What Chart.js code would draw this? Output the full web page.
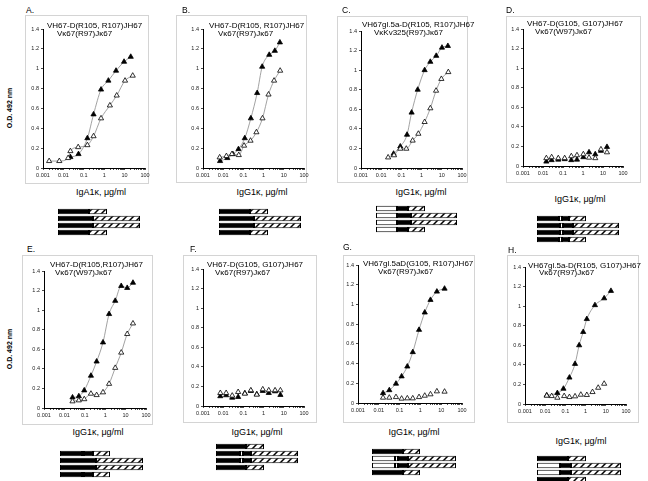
<!DOCTYPE html>
<html><head><meta charset="utf-8">
<script src="https://cdn.jsdelivr.net/npm/chart.js@4.4.1/dist/chart.umd.min.js"></script>
<style>
body{margin:0;background:#fff;width:648px;height:481px;position:relative;overflow:hidden;font-family:"Liberation Sans",Arial,sans-serif;color:#000;}
.box{position:absolute;border:1px solid #d4d4d4;box-sizing:border-box;}
.t{position:absolute;font-size:8px;white-space:nowrap;line-height:1;}
.lt{position:absolute;font-size:8.5px;line-height:1;}
.xt{position:absolute;font-size:9px;white-space:nowrap;line-height:1;transform:translateX(-50%);}
.yt{position:absolute;font-size:7px;font-weight:bold;white-space:nowrap;line-height:1;transform:translate(-50%,-50%) rotate(-90deg);}
canvas{position:absolute;}
</style></head><body>
<script>
// ---------- data ----------
const xTickLabels = ['0.001','0.01','0.1','1','10','100'];
const yTickLabels = ['0','0.2','0.4','0.6','0.8','1','1.2','1.4'];
const panelLetters = ['A.','B.','C.','D.','E.','F.','G.','H.'];
const heavyChains = ['VH67-D(R105, R107)JH67','VH67-D(R105, R107)JH67','VH67gl.5a-D(R105, R107)JH67','VH67-D(G105, G107)JH67',
                     'VH67-D(R105,R107)JH67','VH67-D(G105, G107)JH67','VH67gl.5aD(G105, R107)JH67','VH67gl.5a-D(R105, G107)JH67'];
const lightChains = ['Vκ67(R97)Jκ67','Vκ67(R97)Jκ67','VκKv325(R97)Jκ67','Vκ67(W97)Jκ67',
                     'Vκ67(W97)Jκ67','Vκ67(R97)Jκ67','Vκ67(R97)Jκ67','Vκ67(R97)Jκ67'];
const xAxisTitles = ['IgA1κ, μg/ml','IgG1κ, μg/ml','IgG1κ, μg/ml','IgG1κ, μg/ml','IgG1κ, μg/ml','IgG1κ, μg/ml','IgG1κ, μg/ml','IgG1κ, μg/ml'];
const yAxisTitle = 'O.D. 492 nm';

// Panel A
const aFilledX = [0.022, 0.055, 0.15, 0.3, 0.7, 1.6, 3.8, 9.4, 20];
const aFilledY = [0.11, 0.14, 0.30, 0.54, 0.79, 0.88, 0.98, 1.07, 1.12];
const aOpenX = [0.002, 0.0063, 0.017, 0.022, 0.053, 0.15, 0.3, 0.7, 1.9, 4.1, 10.5, 25];
const aOpenY = [0.07, 0.07, 0.10, 0.17, 0.21, 0.23, 0.32, 0.50, 0.63, 0.73, 0.88, 0.93];
// Panel B
const bFilledX = [0.007, 0.016, 0.03, 0.057, 0.117, 0.234, 0.48, 0.85, 1.9, 3.6, 6.4];
const bFilledY = [0.07, 0.10, 0.14, 0.19, 0.30, 0.50, 0.755, 1.02, 1.14, 1.18, 1.265];
const bOpenX = [0.0067, 0.0144, 0.027, 0.059, 0.108, 0.225, 0.44, 0.88, 1.75, 3.3, 6.6];
const bOpenY = [0.107, 0.12, 0.14, 0.13, 0.225, 0.275, 0.36, 0.50, 0.74, 0.88, 0.98];
// Panel C
const cFilledX = [0.041, 0.088, 0.19, 0.32, 0.64, 1.41, 2.7, 5.3, 10.2, 20];
const cFilledY = [0.146, 0.22, 0.34, 0.566, 0.80, 1.0, 1.085, 1.146, 1.23, 1.247];
const cOpenX = [0.022, 0.043, 0.088, 0.175, 0.36, 0.69, 1.41, 2.7, 5.2, 9.5, 21];
const cOpenY = [0.108, 0.13, 0.197, 0.197, 0.28, 0.35, 0.47, 0.61, 0.79, 0.91, 0.98];
// Panel D
const dX = [0.0147, 0.027, 0.058, 0.121, 0.26, 0.5, 1.04, 2.0, 4.1, 7.9, 15.8];
const dFilledY = [0.045, 0.06, 0.065, 0.07, 0.06, 0.065, 0.09, 0.14, 0.12, 0.155, 0.195];
const dOpenY = [0.08, 0.09, 0.08, 0.08, 0.10, 0.11, 0.12, 0.085, 0.08, 0.17, 0.14];
// Panel E
const eX = [0.025, 0.051, 0.094, 0.2, 0.38, 0.78, 1.55, 3.1, 6.1, 12, 23];
const eFilledY = [0.108, 0.12, 0.18, 0.33, 0.475, 0.67, 0.96, 1.095, 1.247, 1.227, 1.28];
const eOpenY = [0.068, 0.078, 0.09, 0.146, 0.132, 0.16, 0.247, 0.41, 0.566, 0.756, 0.864];
// Panel F
const fX = [0.0072, 0.014, 0.028, 0.055, 0.118, 0.234, 0.46, 0.91, 1.8, 3.7, 6.8];
const fFilledY = [0.10, 0.11, 0.085, 0.092, 0.13, 0.154, 0.12, 0.154, 0.133, 0.15, 0.113];
const fOpenY = [0.133, 0.133, 0.106, 0.143, 0.126, 0.16, 0.116, 0.17, 0.16, 0.16, 0.16];
// Panel G
const gX = [0.016, 0.032, 0.067, 0.125, 0.235, 0.43, 0.86, 1.62, 3.05, 6.2, 14.5];
const gFilledY = [0.10, 0.13, 0.196, 0.27, 0.37, 0.516, 0.742, 0.918, 1.046, 1.13, 1.16];
const gOpenY = [0.054, 0.054, 0.06, 0.044, 0.047, 0.047, 0.06, 0.074, 0.088, 0.118, 0.115];
// Panel H
const hFilledX = [0.0119, 0.040, 0.080, 0.158, 0.30, 0.48, 0.76, 1.15, 2.9, 8.3, 18];
const hFilledY = [0.088, 0.112, 0.156, 0.27, 0.41, 0.60, 0.736, 0.868, 1.01, 1.08, 1.156];
const hOpenX = [0.0119, 0.021, 0.040, 0.087, 0.158, 0.30, 0.58, 1.15, 2.2, 4.2, 8.3];
const hOpenY = [0.085, 0.081, 0.064, 0.081, 0.071, 0.078, 0.095, 0.092, 0.122, 0.166, 0.207];

// schematic segments (short chain rows 1 & 4, long chain rows 2 & 3); B=black, W=white, H=hatched
const schShortLen = [[31,18],[31,18],[21,11,17],[22,3,7,17],[22,2,9,17],[30,18],[31,17],[31,18]];
const schShortKind = [['B','H'],['B','H'],['W','B','H'],['B','W','B','H'],['B','W','B','H'],['B','H'],['B','H'],['B','H']];
const schLongLen = [[35,47],[35,47],[21,14,46],[23,3,10,46],[36,47],[24,3,8,47],[23,3,10,48],[23,11,50]];
const schLongKind = [['B','H'],['B','H'],['W','B','H'],['B','W','B','H'],['B','H'],['B','W','B','H'],['W','W','B','H'],['W','B','H']];

// ---------- layout ----------
const layout = [
 {ca:[43,145,29,168], box:[25,15,149,184], letter:[26,6], t1:[47,22], t2:[57,30], xt:[101,188], sch:[58,208]},
 {ca:[203,304,29,168], box:[176,15,307,183], letter:[182,6], t1:[209,22], t2:[218,30], xt:[262,188], sch:[219,208]},
 {ca:[361,462,31,168], box:[337,16,468,183], letter:[342,6], t1:[362,21], t2:[374,29], xt:[421,188], sch:[376,205]},
 {ca:[523,623,29,166], box:[506,16,641,183], letter:[506,6], t1:[527,20], t2:[535,28], xt:[580,195], sch:[537,215]},
 {ca:[44,146,271,408], box:[22,255,153,425], letter:[27,245], t1:[50,261], t2:[55,269], xt:[98,428], sch:[60,450]},
 {ca:[203,304,269,406], box:[183,255,317,423], letter:[190,245], t1:[207,261], t2:[215,269], xt:[257,428], sch:[216,443]},
 {ca:[358,462,265,403], box:[343,255,475,423], letter:[343,243], t1:[363,260], t2:[378,268], xt:[414,428], sch:[372,448]},
 {ca:[525,626,267,404], box:[507,255,639,423], letter:[508,246], t1:[528,262], t2:[539,269], xt:[581,437], sch:[537,455]}
];
const series = [
 {fx:aFilledX, fy:aFilledY, ox:aOpenX, oy:aOpenY, fl:true, ol:true},
 {fx:bFilledX, fy:bFilledY, ox:bOpenX, oy:bOpenY, fl:true, ol:true},
 {fx:cFilledX, fy:cFilledY, ox:cOpenX, oy:cOpenY, fl:true, ol:true},
 {fx:dX, fy:dFilledY, ox:dX, oy:dOpenY, fl:false, ol:false},
 {fx:eX, fy:eFilledY, ox:eX, oy:eOpenY, fl:true, ol:true},
 {fx:fX, fy:fFilledY, ox:fX, oy:fOpenY, fl:false, ol:false},
 {fx:gX, fy:gFilledY, ox:gX, oy:gOpenY, fl:true, ol:false},
 {fx:hFilledX, fy:hFilledY, ox:hOpenX, oy:hOpenY, fl:true, ol:false}
];

const FONT = '"Liberation Sans", Arial, sans-serif';
function el(cls, txt, x, y){ const d=document.createElement('div'); d.className=cls; d.textContent=txt; d.style.left=x+'px'; d.style.top=y+'px'; document.body.appendChild(d); return d; }

// hatch pattern
const P = 7;
const pc = document.createElement('canvas'); pc.width=P; pc.height=P;
const px = pc.getContext('2d'); px.fillStyle='#fff'; px.fillRect(0,0,P,P);
px.strokeStyle='#000'; px.lineWidth=1.5; px.beginPath();
px.moveTo(0,P); px.lineTo(P,0); px.moveTo(-P/2,P/2); px.lineTo(P/2,-P/2); px.moveTo(P/2,P*1.5); px.lineTo(P*1.5,P/2); px.stroke();
const hatch = px.createPattern(pc,'repeat');
const fillOf = k => k==='B' ? '#000' : (k==='W' ? '#fff' : hatch);

// log ticks (decade positions)
const logTickVals = [];
for (let e=-3; e<=2; e++) for (let m=1; m<=9; m++) { const v=+(m*Math.pow(10,e)).toPrecision(3); if (v<=100) logTickVals.push(v); }

const PADL=22, PADT=8, PADR=12, PADB=14;

layout.forEach((L, i) => {
  const b = document.createElement('div'); b.className='box';
  b.style.left=L.box[0]+'px'; b.style.top=L.box[1]+'px';
  b.style.width=(L.box[2]-L.box[0])+'px'; b.style.height=(L.box[3]-L.box[1])+'px';
  document.body.appendChild(b);

  const [l,r,t,bt] = L.ca;
  const cv = document.createElement('canvas');
  const w = (r-l)+PADL+PADR, h = (bt-t)+PADT+PADB;
  cv.width=w; cv.height=h; cv.style.width=w+'px'; cv.style.height=h+'px';
  cv.style.left=(l-PADL)+'px'; cv.style.top=(t-PADT)+'px';
  document.body.appendChild(cv);
  const S = series[i];
  const mk = (xs, ys) => xs.map((x,k)=>({x, y:ys[k]}));
  new Chart(cv, {
    type:'scatter',
    data:{datasets:[
      {data:mk(S.ox,S.oy), showLine:S.ol, borderColor:'#8a8a8a', borderWidth:0.8, cubicInterpolationMode:'monotone',
       pointStyle:'triangle', pointRadius:3, pointBackgroundColor:'#fff', pointBorderColor:'#000', pointBorderWidth:0.8},
      {data:mk(S.fx,S.fy), showLine:S.fl, borderColor:'#8a8a8a', borderWidth:0.8, cubicInterpolationMode:'monotone',
       pointStyle:'triangle', pointRadius:3, pointBackgroundColor:'#000', pointBorderColor:'#000', pointBorderWidth:0.8}
    ]},
    options:{
      responsive:false, animation:false, devicePixelRatio:1,
      layout:{padding:{left:0, top:PADT, right:PADR, bottom:0}},
      plugins:{legend:{display:false}, tooltip:{enabled:false}},
      scales:{
        x:{type:'logarithmic', min:0.001, max:100, position:'bottom',
           afterFit:s=>{s.height=PADB;},
           afterBuildTicks:s=>{s.ticks=logTickVals.map(v=>({value:v}));},
           grid:{drawOnChartArea:false, drawTicks:true, tickLength:2, color:'#000', lineWidth:0.7},
           border:{color:'#000', width:1},
           ticks:{autoSkip:false, maxRotation:0, minRotation:0, padding:2, color:'#222', font:{size:5.5, family:FONT},
             callback:(v)=>{const lg=Math.log10(v); const rl=Math.round(lg); return Math.abs(lg-rl)<1e-6 ? xTickLabels[rl+3] : '';}}},
        y:{type:'linear', min:0, max:1.4,
           afterFit:s=>{s.width=PADL;},
           grid:{drawOnChartArea:false, drawTicks:true, tickLength:2, color:'#000', lineWidth:0.7},
           border:{color:'#000', width:1},
           ticks:{stepSize:0.2, padding:2, color:'#222', font:{size:5.5, family:FONT},
             callback:(v,k)=>yTickLabels[k]}}
      }
    }
  });

  const sc = document.createElement('canvas');
  sc.width=100; sc.height=28; sc.style.width='100px'; sc.style.height='28px';
  sc.style.left=L.sch[0]+'px'; sc.style.top=L.sch[1]+'px';
  document.body.appendChild(sc);
  const rowsLen = [schShortLen[i], schLongLen[i], schLongLen[i], schShortLen[i]];
  const rowsKind = [schShortKind[i], schLongKind[i], schLongKind[i], schShortKind[i]];
  const nSeg = Math.max(...rowsLen.map(a=>a.length));
  const ds = [];
  for (let s=0; s<nSeg; s++) {
    ds.push({
      data: rowsLen.map(a=>a[s]||0),
      backgroundColor: rowsKind.map(a=>a[s] ? fillOf(a[s]) : 'rgba(0,0,0,0)'),
      borderColor:'#000',
      borderWidth: rowsLen.map(a=>a[s] ? 1 : 0),
      borderSkipped:false, barPercentage:0.76, categoryPercentage:1
    });
  }
  new Chart(sc, {
    type:'bar',
    data:{labels:['1','2','3','4'], datasets:ds},
    options:{indexAxis:'y', responsive:false, animation:false, devicePixelRatio:1,
      layout:{padding:0},
      plugins:{legend:{display:false}, tooltip:{enabled:false}},
      scales:{x:{stacked:true, display:false, min:0, max:100}, y:{stacked:true, display:false}}}
  });

  el('lt', panelLetters[i], L.letter[0], L.letter[1]);
  el('t', heavyChains[i], L.t1[0], L.t1[1]);
  el('t', lightChains[i], L.t2[0], L.t2[1]);
  el('xt', xAxisTitles[i], L.xt[0], L.xt[1]);
});
el('yt', yAxisTitle, 9, 108);
el('yt', yAxisTitle, 9, 349);
</script>
</body></html>
